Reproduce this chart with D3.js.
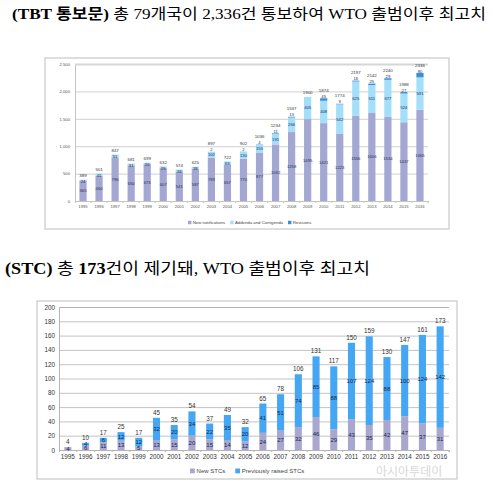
<!DOCTYPE html>
<html>
<head>
<meta charset="utf-8">
<script src="https://cdn.jsdelivr.net/npm/d3@7"></script>
<style>
  body { margin: 0; background: #fff; }
  .title { font-family: "Liberation Serif", "Noto Sans CJK KR", serif; fill: #000; }
  .chart text { font-family: "Liberation Sans", Arial, sans-serif; }
</style>
</head>
<body>
<svg id="page" width="493" height="486"></svg>
<script>
// ----------------------------------------------------------------------
// Data
// ----------------------------------------------------------------------

const YEARS = d3.range(1995, 2017).map(String);

// TBT notifications
const NEW_NOTIFICATIONS = [365, 460, 796, 650, 673, 607, 541, 587, 793, 657, 770, 877, 1032, 1258, 1495, 1421, 1223, 1556, 1606, 1534, 1437, 1665];
const ADDENDA = [24, 41, 51, 31, 26, 25, 33, 38, 102, 65, 130, 155, 191, 266, 405, 408, 542, 625, 511, 677, 524, 591];
const REVISIONS = [0, 0, 0, 0, 0, 0, 0, 0, 2, 0, 2, 4, 11, 13, 0, 45, 9, 16, 25, 29, 27, 80];
const TBT_TICKS = [0, 500, 1000, 1500, 2000, 2500];
const TBT_SERIES = ["New notifications", "Addenda and Corrigenda", "Revisions"];

// STCs
const NEW_STC = [4, 6, 11, 13, 5, 13, 15, 20, 15, 14, 12, 24, 27, 32, 46, 29, 43, 35, 42, 47, 37, 31];
const PREV_STC = [0, 4, 6, 12, 12, 32, 20, 34, 22, 35, 20, 41, 51, 74, 85, 88, 107, 124, 88, 100, 124, 142];
const STC_TICKS = [0, 20, 40, 60, 80, 100, 120, 140, 160, 180, 200];
const STC_SERIES = ["New STCs", "Previously raised STCs"];

const svg = d3.select("#page");

// ----------------------------------------------------------------------
// Titles
// ----------------------------------------------------------------------

const t1 = svg.append("text").attr("class", "title")
  .attr("x", 12).attr("y", 19).attr("font-size", 14.5)
  .attr("textLength", 474).attr("lengthAdjust", "spacingAndGlyphs");
t1.append("tspan").attr("font-weight", "bold").text("(TBT 통보문)");
t1.append("tspan").text(" 총 79개국이 2,336건 통보하여 WTO 출범이후 최고치");

const t2 = svg.append("text").attr("class", "title")
  .attr("x", 5).attr("y", 274).attr("font-size", 16)
  .attr("textLength", 365).attr("lengthAdjust", "spacingAndGlyphs");
t2.append("tspan").attr("font-weight", "bold").text("(STC)");
t2.append("tspan").text(" 총 ");
t2.append("tspan").attr("font-weight", "bold").text("173");
t2.append("tspan").text("건이 제기돼, WTO 출범이후 최고치");

// ----------------------------------------------------------------------
// Stacked chart helper
// ----------------------------------------------------------------------

function drawStacked(cfg) {
  const g = svg.append("g").attr("class", "chart");

  g.append("rect")
    .attr("x", cfg.frame[0]).attr("y", cfg.frame[1])
    .attr("width", cfg.frame[2]).attr("height", cfg.frame[3])
    .attr("fill", "#fff").attr("stroke", "#c8c8c8").attr("stroke-width", 1.2);

  const x = d3.scaleBand().domain(YEARS)
    .range(cfg.xRange).paddingInner(cfg.padding).paddingOuter(cfg.padding / 2);
  const y = d3.scaleLinear().domain(cfg.yDomain).range(cfg.yRange);

  const rows = YEARS.map((yr, i) => {
    const r = { year: yr };
    cfg.keys.forEach((k, j) => r[k] = cfg.values[j][i]);
    return r;
  });
  const stacked = d3.stack().keys(cfg.keys)(rows);
  const lastIdx = cfg.keys.length - 1;
  const isSmall = d => (y(d[0]) - y(d[1])) < cfg.labelFont * 1.1;

  // grid + y axis
  const yAxis = g.append("g")
    .attr("transform", `translate(${cfg.xRange[0]},0)`)
    .call(d3.axisLeft(y).tickValues(cfg.ticks)
      .tickSize(-(cfg.xRange[1] - cfg.xRange[0])).tickPadding(cfg.tickPad));
  yAxis.select(".domain").attr("stroke", cfg.gridColor);
  yAxis.selectAll(".tick line").attr("stroke", cfg.gridColor).attr("stroke-width", cfg.gridWidth);
  yAxis.selectAll(".tick text").attr("font-size", cfg.axisFont).attr("fill", cfg.axisColor);
  if (cfg.topGridWidth) {
    yAxis.selectAll(".tick line").filter(d => d === cfg.yDomain[1])
      .attr("stroke", "#d6d6d6").attr("stroke-width", cfg.topGridWidth);
  }

  // x axis
  const xAxis = g.append("g")
    .attr("transform", `translate(0,${cfg.yRange[0]})`)
    .call(d3.axisBottom(x).tickSize(2).tickPadding(cfg.xPad));
  xAxis.select(".domain").attr("stroke", cfg.gridColor);
  xAxis.selectAll(".tick line").attr("stroke", cfg.gridColor)
    .attr("transform", `translate(${x.step() / 2},0)`);
  xAxis.selectAll(".tick text").attr("font-size", cfg.axisFont).attr("fill", cfg.axisColor);

  // bars
  const layers = g.append("g").selectAll("g")
    .data(stacked).join("g").attr("fill", d => cfg.colors[d.key]);
  layers.selectAll("rect").data(d => d).join("rect")
    .attr("x", d => x(d.data.year))
    .attr("width", x.bandwidth())
    .attr("y", d => y(d[1]))
    .attr("height", d => y(d[0]) - y(d[1]));

  // segment labels
  // (with cfg.smallLabels the thin middle segment is labelled at its top,
  //  the thin last segment just above the bar)
  stacked.forEach((layer, li) => {
    g.append("g").selectAll("text")
      .data(layer.filter(d => d[1] - d[0] > 0))
      .join("text")
      .attr("x", d => x(d.data.year) + x.bandwidth() / 2)
      .attr("y", d => {
        if (cfg.smallLabels && li > 0 && isSmall(d)) {
          return li === lastIdx ? y(d[1]) - 0.4 : y(d[1]) + cfg.labelFont * 0.85;
        }
        return (y(d[0]) + y(d[1])) / 2 + cfg.labelFont * 0.35;
      })
      .attr("text-anchor", "middle")
      .attr("font-size", cfg.labelFont)
      .attr("font-weight", cfg.labelWeight)
      .attr("fill", cfg.labelColor)
      .text(d => d[1] - d[0]);
  });

  // totals
  const last = stacked[lastIdx];
  g.append("g").selectAll("text").data(last).join("text")
    .attr("x", d => x(d.data.year) + x.bandwidth() / 2)
    .attr("y", d => {
      const lifted = cfg.smallLabels && d[1] - d[0] > 0 && isSmall(d);
      return y(d[1]) - cfg.totalGap - (lifted ? cfg.labelFont * 0.95 : 0);
    })
    .attr("text-anchor", "middle")
    .attr("font-size", cfg.totalFont)
    .attr("fill", "#333")
    .text(d => d[1]);

  // legend
  const lg = g.append("g").attr("transform", `translate(0,${cfg.legendY})`);
  let lx = cfg.legendX;
  cfg.keys.forEach(k => {
    lg.append("rect").attr("x", lx).attr("y", -cfg.legendFont * 0.75)
      .attr("width", cfg.legendFont * 0.8).attr("height", cfg.legendFont * 0.8)
      .attr("fill", cfg.colors[k]);
    const tx = lg.append("text").attr("x", lx + cfg.legendFont * 1.1).attr("y", 0)
      .attr("font-size", cfg.legendFont).attr("fill", "#444").text(k);
    lx += cfg.legendFont * 1.1 + tx.node().getComputedTextLength() + cfg.legendGap;
  });
}

// ----------------------------------------------------------------------
// Top chart: TBT notifications
// ----------------------------------------------------------------------

drawStacked({
  frame: [45, 58, 404, 171],
  xRange: [75, 428], yRange: [201, 64], yDomain: [0, 2500],
  padding: 0.55, ticks: TBT_TICKS,
  keys: TBT_SERIES,
  values: [NEW_NOTIFICATIONS, ADDENDA, REVISIONS],
  colors: { "New notifications": "#a3a8d3", "Addenda and Corrigenda": "#a3defa", "Revisions": "#3d8fd0" },
  gridColor: "#c4c4c4", gridWidth: 0.8, topGridWidth: 2.2,
  axisFont: 4.2, axisColor: "#555", tickPad: 5, xPad: 2,
  labelFont: 4.2, labelWeight: "normal", labelColor: "#1f2d55", smallLabels: true,
  totalFont: 4.4, totalGap: 2.4,
  legendX: 188, legendY: 224, legendFont: 4.3, legendGap: 5
});

// ----------------------------------------------------------------------
// Bottom chart: STCs
// ----------------------------------------------------------------------

drawStacked({
  frame: [37, 301, 420, 178],
  xRange: [59, 449], yRange: [450, 307], yDomain: [0, 200],
  padding: 0.6, ticks: STC_TICKS,
  keys: STC_SERIES,
  values: [NEW_STC, PREV_STC],
  colors: { "New STCs": "#aaa7cf", "Previously raised STCs": "#45a6f3" },
  gridColor: "#b4b4b4", gridWidth: 0.8,
  axisFont: 6.3, axisColor: "#333", tickPad: 4, xPad: 3,
  labelFont: 6, labelWeight: "normal", labelColor: "#152850", smallLabels: false,
  totalFont: 6.3, totalGap: 3,
  legendX: 190, legendY: 473, legendFont: 6, legendGap: 10
});

// watermark, kept just under the year labels
svg.append("text")
  .attr("x", 376).attr("y", 476)
  .attr("font-family", "Noto Sans CJK KR").attr("font-size", 12)
  .attr("fill", "#bdbdbd").attr("opacity", 0.6)
  .text("아시아투데이");
</script>
</body>
</html>
